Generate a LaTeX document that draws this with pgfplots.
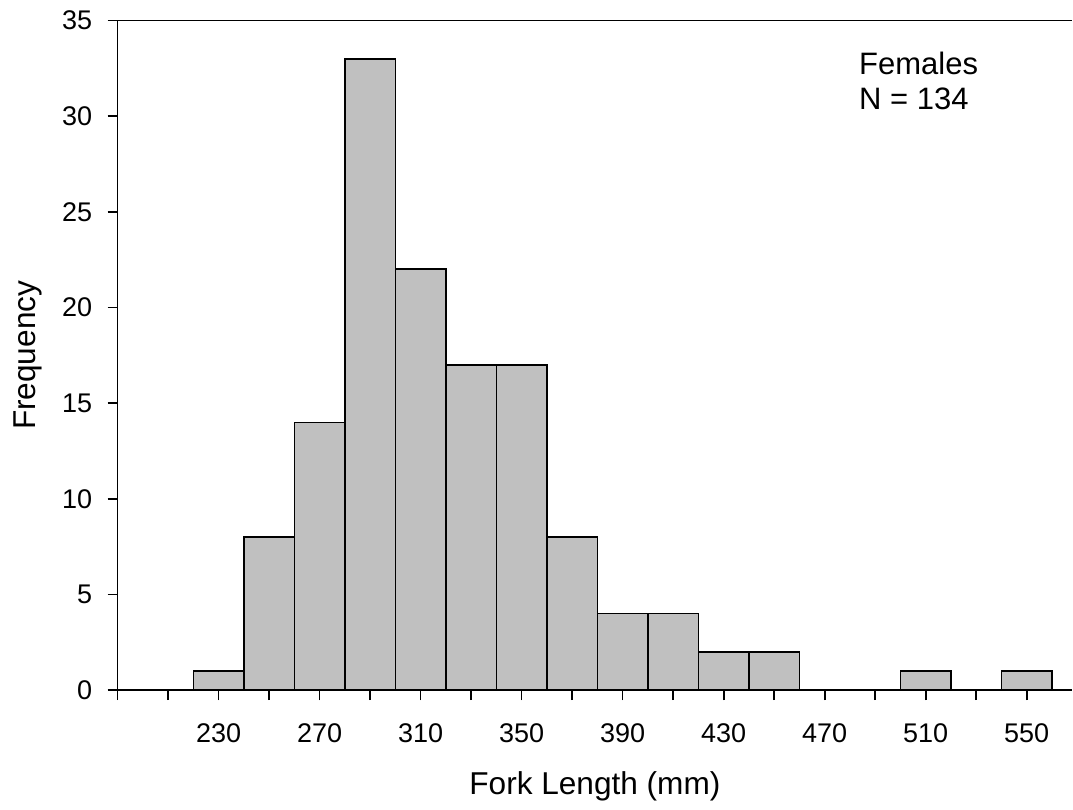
\documentclass[border=0pt]{standalone}
\usepackage{pgfplots}
\pgfplotsset{compat=1.18}
\usepackage{fontspec}
\setmainfont{Liberation Sans}
\definecolor{bargray}{RGB}{192,192,192}
\begin{document}
\fontsize{13.5}{15}\selectfont
\begin{tikzpicture}
\begin{axis}[
  at={(0,0)}, anchor=south west,
  scale only axis, width=477.5pt, height=335pt,
  xmin=190, xmax=568, ymin=0, ymax=35,
  axis lines=left, axis line style={-, line width=0.8pt, black},
  xtick={230,270,...,550},
  minor xtick={190,210,...,550},
  ytick={0,5,...,35},
  tick align=outside,
  major tick length=5pt, minor tick length=5pt,
  every tick/.style={black, line width=0.8pt},
  tick label style={font=\fontsize{13.5}{15}\selectfont},
  /pgf/number format/assume math mode=true,
  xticklabel style={yshift=-7pt},
  yticklabel style={xshift=-3pt},
  xlabel={Fork Length (mm)},
  ylabel={Frequency},
  label style={font=\fontsize{15.8}{18}\selectfont},
  xlabel style={at={(axis description cs:0.5,0)}, anchor=base, yshift=-52pt},
  ylabel style={at={(axis description cs:0,0.5)}, anchor=base, yshift=41pt},
  clip=false,
]
\addplot[ybar interval, fill=bargray, draw=black, line width=0.8pt] coordinates {
 (220,1) (240,8) (260,14) (280,33) (300,22) (320,17) (340,17) (360,8)
 (380,4) (400,4) (420,2) (440,2) (460,0) (480,0) (500,1) (520,0) (540,1) (560,1)
};
\draw[line width=0.8pt] (rel axis cs:0,1) -- (rel axis cs:1,1);
\node[anchor=base west, inner sep=0pt, font=\fontsize{15.5}{17.5}\selectfont] at (axis cs:483.5,32.16) {Females};
\node[anchor=base west, inner sep=0pt, font=\fontsize{15.5}{17.5}\selectfont] at (axis cs:483.5,30.33) {N = 134};
\end{axis}
\path[use as bounding box] (-58.85pt,-58.25pt) rectangle (477.5pt,345.25pt);
\end{tikzpicture}
\end{document}
